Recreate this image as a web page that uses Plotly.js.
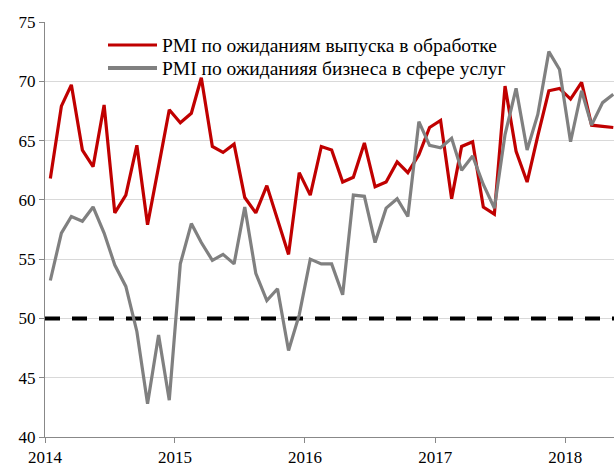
<!DOCTYPE html>
<html><head><meta charset="utf-8">
<script src="https://cdn.plot.ly/plotly-3.0.1.min.js"></script>
<style>body{margin:0;padding:0;background:#fff}#chart{width:614px;height:467px}</style>
</head><body><div id="chart"></div>
<script>
// Months Jan 2014 .. May 2018 (mid-month points)
const years = [2014, 2015, 2016, 2017, 2018];
const monthsInLastYear = 5;
const manufacturing = [
  61.8, 67.9, 69.7, 64.2, 62.8, 68.0, 58.9, 60.4, 64.6, 57.9, 62.8, 67.6,
  66.5, 67.3, 70.3, 64.5, 64.0, 64.7, 60.2, 58.9, 61.2, 58.3, 55.4, 62.3,
  60.4, 64.5, 64.2, 61.5, 61.9, 64.8, 61.1, 61.5, 63.2, 62.3, 63.8, 66.1,
  66.7, 60.1, 64.5, 64.9, 59.4, 58.8, 69.6, 64.1, 61.5, 65.4, 69.2, 69.4,
  68.5, 69.9, 66.3, 66.2, 66.1
];
const services = [
  53.2, 57.2, 58.6, 58.2, 59.4, 57.2, 54.5, 52.7, 48.9, 42.8, 48.6, 43.1,
  54.6, 58.0, 56.4, 54.9, 55.4, 54.6, 59.4, 53.8, 51.5, 52.5, 47.3, 50.3,
  55.0, 54.6, 54.6, 52.0, 60.4, 60.3, 56.4, 59.3, 60.1, 58.6, 66.6, 64.6,
  64.4, 65.2, 62.5, 63.7, 61.3, 59.3, 65.5, 69.4, 64.2, 67.2, 72.5, 71.0,
  64.9, 69.2, 66.3, 68.2, 68.9
];
const seriesNames = ['PMI по ожиданиям выпуска в обработке', 'PMI по ожиданияя бизнеса в сфере услуг'];
const seriesColors = ['#c00000', '#808080'];
const threshold = 50;
const xRange = ['2014-01-01', '2018-05-18'];
const tickYears = years.map(y => y + '-01-01');
const tickLabels = years.map(String);

const dates = [];
years.forEach((y, i) => {
  const n = i === years.length - 1 ? monthsInLastYear : 12;
  for (let m = 1; m <= n; m++) dates.push(y + '-' + String(m).padStart(2, '0') + '-16');
});

const traces = [
  {x: xRange, y: [threshold, threshold], type: 'scatter', mode: 'lines', showlegend: false,
   line: {color: '#000', width: 4, dash: '15px,12px'}, cliponaxis: false},
  {x: dates, y: manufacturing, name: seriesNames[0], type: 'scatter', mode: 'lines',
   line: {color: seriesColors[0], width: 3.2}, showlegend: false},
  {x: dates, y: services, name: seriesNames[1], type: 'scatter', mode: 'lines',
   line: {color: seriesColors[1], width: 3.2}, showlegend: false}
];

// legend drawn in paper coordinates
const plotL = 45, plotW = 569, plotB = 437, plotH = 415;
const px = v => (v - plotL) / plotW;
const py = v => (plotB - v) / plotH;
const legendRows = [45, 68];
const shapes = [];
const annotations = [];
seriesNames.forEach((n, i) => {
  shapes.push({type: 'line', xref: 'paper', yref: 'paper', x0: px(108), x1: px(157),
               y0: py(legendRows[i]), y1: py(legendRows[i]),
               line: {color: seriesColors[i], width: i === 0 ? 3.2 : 4}});
  annotations.push({xref: 'paper', yref: 'paper', x: px(160), y: py(legendRows[i]),
                    xanchor: 'left', yanchor: 'middle', showarrow: false, text: n,
                    font: {size: 19.5}});
});

const layout = {
  width: 614, height: 467,
  margin: {l: 45, r: 0, t: 22, b: 30},
  paper_bgcolor: '#fff', plot_bgcolor: '#fff',
  font: {family: '"Liberation Serif", "Times New Roman", serif', size: 17, color: '#000'},
  showlegend: false,
  xaxis: {type: 'date', range: xRange,
          tickvals: tickYears, ticktext: tickLabels,
          showgrid: false, zeroline: false, showline: true, linecolor: '#888', linewidth: 1,
          ticks: 'outside', ticklen: 5, tickcolor: '#888', tickfont: {size: 17}},
  yaxis: {range: [40, 75], tickvals: [40, 45, 50, 55, 60, 65, 70, 75],
          showgrid: true, gridcolor: '#d9d9d9', gridwidth: 1, zeroline: false,
          showline: true, linecolor: '#888', linewidth: 1,
          ticks: 'outside', ticklen: 5, tickcolor: '#888', tickfont: {size: 17}},
  shapes: shapes,
  annotations: annotations
};
Plotly.newPlot('chart', traces, layout, {displayModeBar: false, staticPlot: true});
</script></body></html>
